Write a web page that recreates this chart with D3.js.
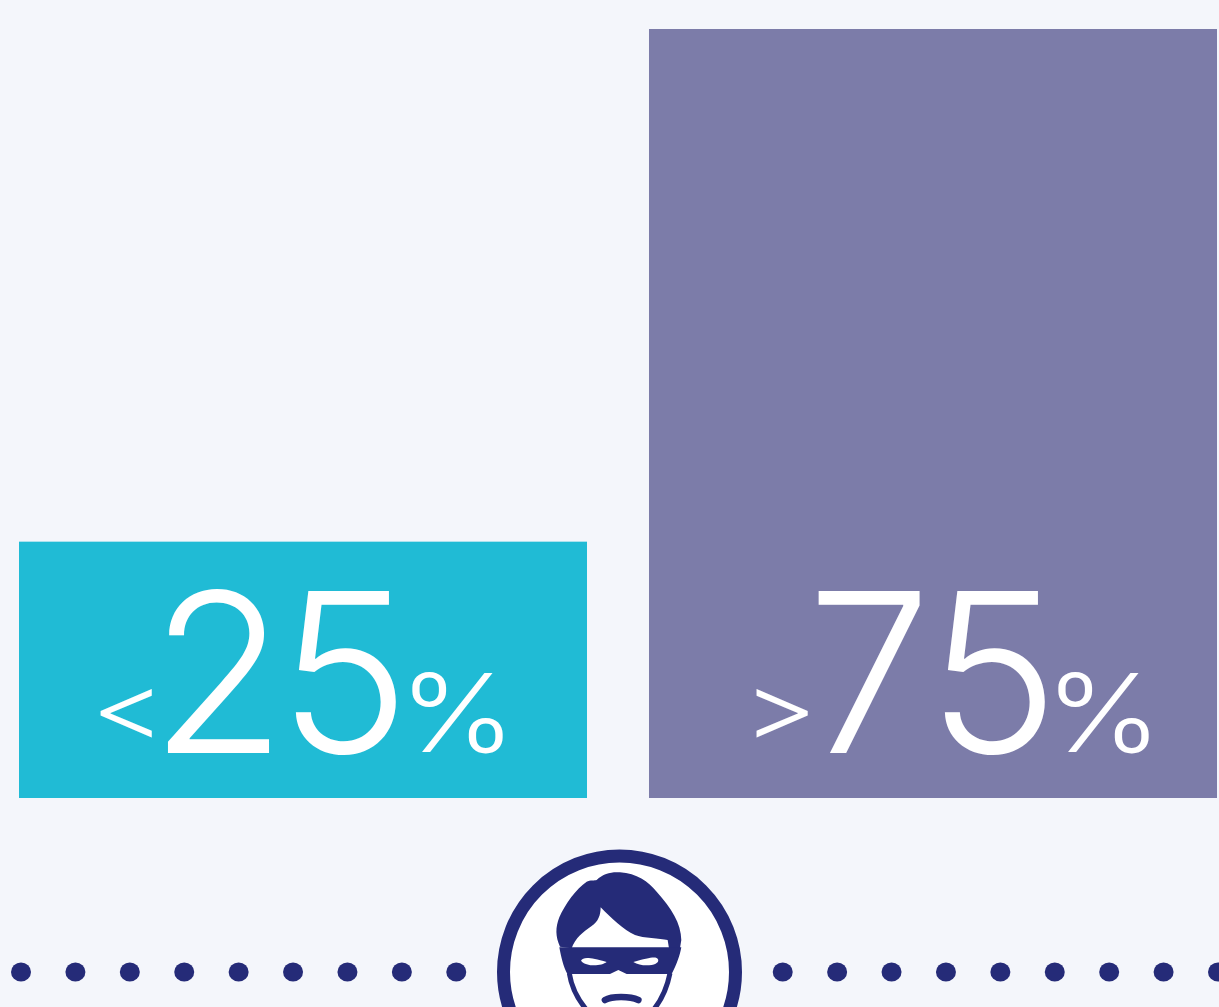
<!DOCTYPE html>
<html>
<head>
<meta charset="utf-8">
<script src="https://cdn.jsdelivr.net/npm/d3@7"></script>
<style>
    html, body { margin: 0; background: #f4f6fb; overflow: hidden; }
    svg { display: block; }
    text { font-family: Inter, "Noto Sans", sans-serif; fill: #fff; font-weight: 260; }
</style>
</head>
<body>
<div id="chart"></div>
<script>
const categories = ['low', 'high']
const values = [25, 75]
const prefixes = ['<', '>']
const barColors = ['#20bbd5', '#7c7ca9']
const dotIndexes = [0, 1, 2, 3, 4, 5, 6, 7, 8, 14, 15, 16, 17, 18, 19, 20, 21, 22]

const width = 1219
const height = 1007
const navy = '#252b78'
// tracking after each digit, the font's default pairs sit too far apart
const digitSpacing = [[-8, -18], [-4, -20]]

const svg = d3.select('#chart').append('svg')
    .attr('width', width)
    .attr('height', height)

const x = d3.scaleBand().domain(categories).range([19, 1217]).paddingInner(0.0984)
const y = d3.scaleLinear().domain([0, 75]).range([798, 29])
const dotX = d3.scaleLinear().domain([0, 22]).range([21, 1218])

svg.selectAll('rect.bar')
    .data(categories)
    .join('rect')
    .attr('class', 'bar')
    .attr('x', d => x(d))
    .attr('y', (d, i) => y(values[i]))
    .attr('width', x.bandwidth())
    .attr('height', (d, i) => y(0) - y(values[i]))
    .attr('fill', (d, i) => barColors[i])

// label parts sit relative to the left edge of their bar
const labels = svg.selectAll('g.label')
    .data(categories)
    .join('g')
    .attr('class', 'label')
    .attr('transform', d => `translate(${x(d)}, 753)`)

labels.append('text')
    .attr('transform', (d, i) => `translate(${i ? 93 : 71}, -14) scale(1.27, 1)`)
    .attr('font-size', 92)
    .attr('letter-spacing', -11)
    .text((d, i) => prefixes[i])

labels.append('text')
    .attr('x', (d, i) => i ? 158 : 131)
    .attr('font-size', 222)
    .each(function (d, i) {
        d3.select(this).selectAll('tspan')
            .data(String(values[i]).split(''))
            .join('tspan')
            .attr('letter-spacing', (c, j) => digitSpacing[i][j])
            .text(c => c)
    })

labels.append('text')
    .attr('x', (d, i) => i ? 396 : 380)
    .attr('y', -1)
    .attr('font-size', 108)
    .attr('textLength', 117)
    .attr('lengthAdjust', 'spacingAndGlyphs')
    .text('%')

svg.selectAll('ellipse.dot')
    .data(dotIndexes)
    .join('ellipse')
    .attr('class', 'dot')
    .attr('cx', d => dotX(d))
    .attr('cy', 972)
    .attr('rx', 10)
    .attr('ry', 9.5)
    .attr('fill', navy)

svg.append('circle')
    .attr('cx', 619.5)
    .attr('cy', 972)
    .attr('r', 116)
    .attr('fill', '#fff')
    .attr('stroke', navy)
    .attr('stroke-width', 13)

// masked face icon
const face = svg.append('g').attr('transform', 'translate(480, 840) scale(0.3333)')

face.append('path')
    .attr('fill', navy)
    .attr('d', 'M240,320 C226,290 226,262 238,232 C255,192 290,145 320,125 C330,120 345,122 350,120 C370,100 395,95 420,97 C470,100 505,125 530,155 C575,205 603,250 604,300 L600,325 L567,325 L563,300 C540,295 490,295 465,285 C430,270 395,235 362,202 C362,225 355,245 335,258 C310,275 285,295 275,325 Z')

face.append('path')
    .attr('fill', navy)
    .attr('d', 'M238,322 L604,322 C600,345 590,375 575,402 L440,402 L415,390 L390,402 L262,402 C250,380 243,350 238,322 Z')

face.append('path')
    .attr('fill', '#fff')
    .attr('d', 'M303,362 C310,350 330,352 380,366 C365,378 320,382 303,362 Z')

face.append('path')
    .attr('fill', '#fff')
    .attr('d', 'M460,366 C500,355 520,350 530,354 C540,360 535,372 515,375 C495,378 475,375 460,366 Z')

face.append('path')
    .attr('fill', 'none')
    .attr('stroke', navy)
    .attr('stroke-width', 15)
    .attr('d', 'M268,400 C275,445 295,480 320,510 M570,400 C560,450 545,480 520,510')

face.append('path')
    .attr('fill', 'none')
    .attr('stroke', navy)
    .attr('stroke-width', 20)
    .attr('stroke-linecap', 'round')
    .attr('d', 'M375,480 C395,468 450,468 475,480')
</script>
</body>
</html>
